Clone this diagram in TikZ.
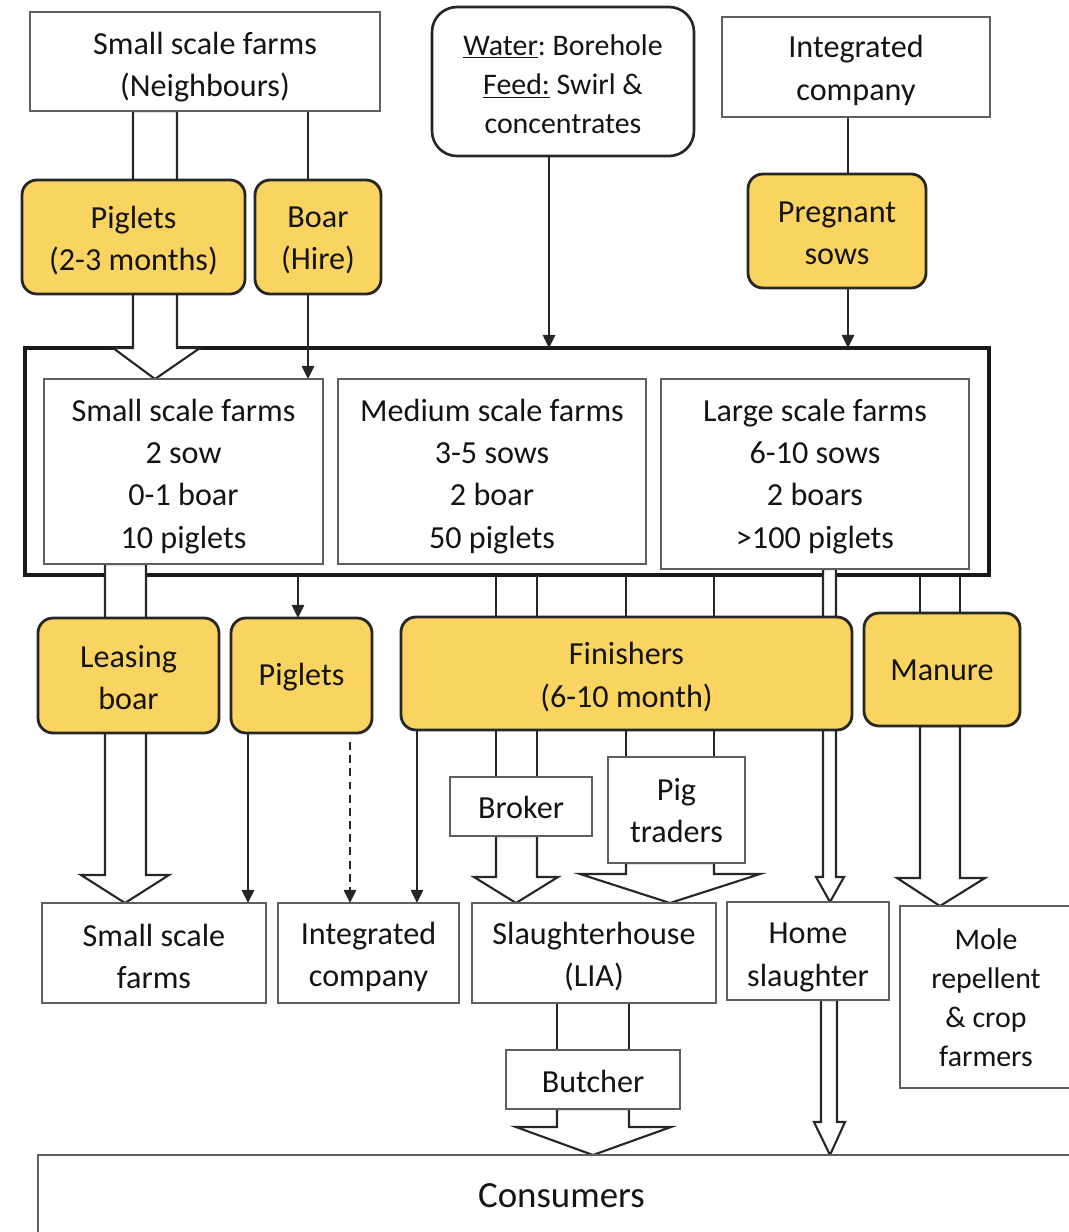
\documentclass[tikz,border=0pt]{standalone}
\usepackage{fontspec}
\setmainfont{Carlito}
\usetikzlibrary{arrows.meta}
\pgfdeclarelayer{bg}
\pgfdeclarelayer{mid}
\pgfsetlayers{bg,mid,main}
\frenchspacing

\definecolor{goldfill}{RGB}{250,212,96}
\definecolor{txt}{RGB}{20,20,20}
\definecolor{edge}{RGB}{95,95,95}

% box given by its corners (x1,y1)-(x2,y2) in pixel units, its text set a little low
% (optional #1: extra downward shift of the text, in pixels)
\newcommand\bx[8][0]{%
  \node[#7, minimum width={(#5-#3)*0.02cm}, minimum height={(#6-#4)*0.02cm}] (#2) at ({(#3+#5)/2},{(#4+#6)/2}) {};
  \node[#7, draw=none, fill=none] (#2-t) at ([yshift={-(3.5+#1)*0.02cm}]#2.center) {#8};}
% hollow block arrow: #1 start anchor, #2/#3 shaft x, #4 head base y, #5/#6 head x, #7 tip
\newcommand\hollowarrow[7]{\draw[hollow] (#2,0 |- #1) -- (#2,#4) -- (#5,#4) -- #7 -- (#6,#4) -- (#3,#4) -- (#3,0 |- #1) -- cycle;}

\tikzset{
  every node/.style={inner sep=0pt, outer sep=0pt, align=center, text=txt},
  plain/.style={draw=edge, line width=1.05pt, fill=white},
  gold/.style={draw=black!85, line width=1.6pt, fill=goldfill, rounded corners=0.3cm},
  herdbox/.style={draw=black!90, line width=1.8pt},
  conn/.style={draw=black!85, line width=1.2pt},
  hollow/.style={draw=black!85, line width=1.2pt, fill=white, line join=miter},
  arr/.style={-{Triangle[width=7pt,length=7.5pt]}},
  smalltext/.style={font=\fontsize{17}{22.3}\selectfont},
}

\begin{document}
\begin{tikzpicture}[x=0.02cm, y=-0.02cm, font=\fontsize{18.3}{24}\selectfont]
\useasboundingbox (0,0) rectangle (1069,1232);

% sources
\bx[2]{ssn}{30}{12}{380}{111}{plain}{Small scale farms\\(Neighbours)}
\bx[-1]{water}{432}{7}{694}{156}{plain,rounded corners=0.5cm,line width=1.5pt,draw=black!85,smalltext}{\underline{Water}: Borehole\\\underline{Feed:} Swirl \&\\concentrates}
\bx{ict}{722}{17}{990}{117}{plain}{Integrated\\company}

\bx{pig1}{22}{180}{245}{294}{gold}{Piglets\\(2-3 months)}
\bx{boar}{255}{180}{381}{294}{gold}{Boar\\(Hire)}
\bx[-1.5]{preg}{748}{174}{926}{288}{gold}{Pregnant\\sows}

% the herd
\begin{pgfonlayer}{bg}
\node[herdbox, minimum width={(989-25)*0.02cm}, minimum height={(575-348)*0.02cm}] (herd) at ({(25+989)/2},{(348+575)/2}) {};
\end{pgfonlayer}
\bx[1.5]{sm}{44}{379}{323}{564}{plain}{Small scale farms\\2 sow\\0-1 boar\\10 piglets}
\bx[1.5]{md}{338}{379}{646}{564}{plain}{Medium scale farms\\3-5 sows\\2 boar\\50 piglets}
\bx[-1]{lg}{661}{379}{969}{569}{plain}{Large scale farms\\6-10 sows\\2 boars\\>100 piglets}

% outputs
\bx[-1.5]{lease}{38}{618}{219}{733}{gold}{Leasing\\boar}
\bx[-2]{pig2}{231}{618}{372}{733}{gold}{Piglets}
\bx{fin}{401}{617}{852}{730}{gold}{Finishers\\(6-10 month)}
\bx[-2.5]{man}{864}{613}{1020}{726}{gold}{Manure}

\bx[-2.5]{broker}{450}{777}{592}{836}{plain}{Broker}
\bx[-3]{trader}{608}{757}{745}{863}{plain}{Pig\\traders}

\bx{sfb}{42}{903}{266}{1003}{plain}{Small scale\\farms}
\bx{icb}{278}{903}{459}{1003}{plain}{Integrated\\company}
\bx{slh}{472}{903}{716}{1003}{plain}{Slaughterhouse\\(LIA)}
\bx[3]{home}{727}{902}{889}{1000}{plain}{Home\\slaughter}
\bx[-3]{mole}{900}{906}{1072}{1088}{plain,smalltext}{Mole\\repellent\\\& crop\\farmers}
\bx[-2]{butch}{506}{1050}{680}{1109}{plain}{Butcher}
\bx[-3.5]{cons}{38}{1155}{1085}{1236}{plain,font=\fontsize{21}{25}\selectfont}{Consumers}

\coordinate (dstart) at (350,742);

\begin{pgfonlayer}{mid}
% block arrows
\hollowarrow{ssn.south}{133}{177}{348}{113}{200}{(155,0 |- sm.north)}
\hollowarrow{sm.south}{105}{146}{875}{81}{169}{(125,0 |- sfb.north)}
\hollowarrow{lg.south}{823}{836}{877}{816}{844}{(830,0 |- home.north)}
\hollowarrow{broker.south}{496}{537}{877}{474}{558}{(516,0 |- slh.north)}
\hollowarrow{trader.south}{626}{714}{874}{580}{760}{(670,0 |- slh.north)}
\hollowarrow{man.south}{920}{960}{878}{897}{985}{(940,0 |- mole.north)}
\hollowarrow{butch.south}{557}{629}{1127}{516}{671}{(593,0 |- cons.north)}
\hollowarrow{home.south}{821}{837}{1122}{814}{845}{(830,0 |- cons.north)}

% double feed lines
\draw[conn] (496,0 |- herd.south) -- (496,0 |- broker.north);
\draw[conn] (537,0 |- herd.south) -- (537,0 |- broker.north);
\draw[conn] (626,0 |- herd.south) -- (626,0 |- trader.north);
\draw[conn] (714,0 |- herd.south) -- (714,0 |- trader.north);
\draw[conn] (920,0 |- herd.south) -- (920,0 |- man.north);
\draw[conn] (960,0 |- herd.south) -- (960,0 |- man.north);
\draw[conn] (557,0 |- slh.south) -- (557,0 |- butch.north);
\draw[conn] (629,0 |- slh.south) -- (629,0 |- butch.north);

% single arrows
\draw[conn] (308,0 |- ssn.south) -- (308,0 |- boar.north);
\draw[conn,arr] (308,0 |- boar.south) -- (308,0 |- sm.north);
\draw[conn,arr] (549,0 |- water.south) -- (549,0 |- herd.north);
\draw[conn] (848,0 |- ict.south) -- (848,0 |- preg.north);
\draw[conn,arr] (848,0 |- preg.south) -- (848,0 |- herd.north);
\draw[conn,arr] (298,0 |- herd.south) -- (298,0 |- pig2.north);
\draw[conn,arr] (248,0 |- pig2.south) -- (248,0 |- sfb.north);
\draw[conn,arr,dash pattern=on 4.5pt off 3pt] (dstart) -- (350,0 |- icb.north);
\draw[conn,arr] (417,0 |- fin.south) -- (417,0 |- icb.north);
\end{pgfonlayer}
\end{tikzpicture}
\end{document}
